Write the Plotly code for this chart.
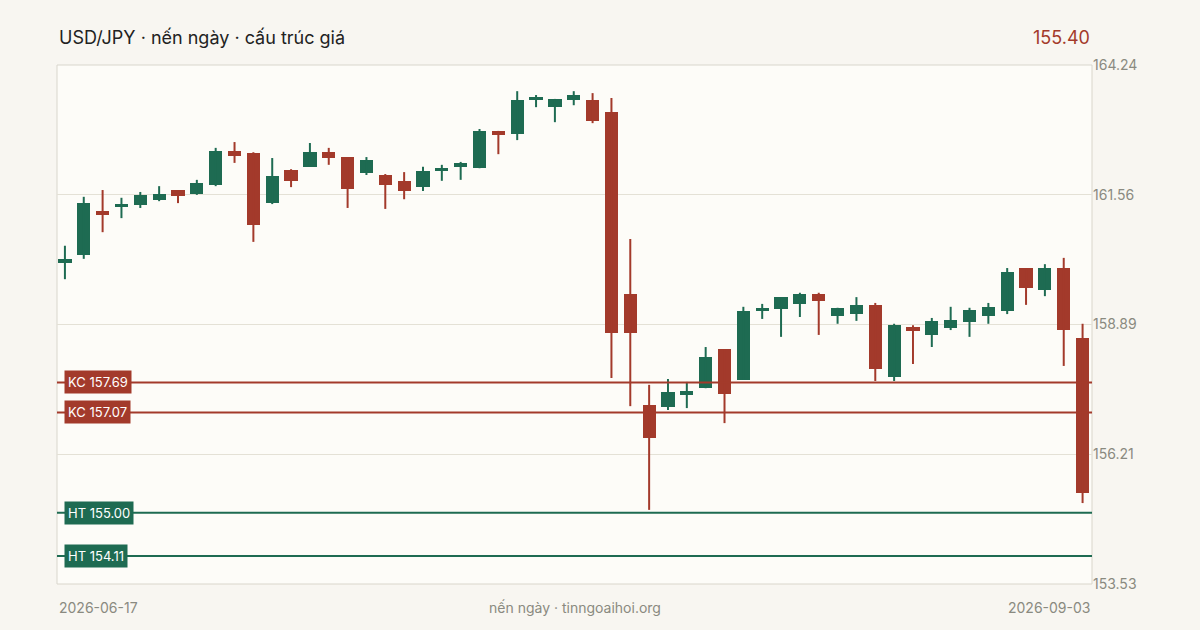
import plotly.graph_objects as go

opens  = [160.15,160.32,161.21,161.31,161.35,161.45,161.66,161.58,161.76,162.47,162.42,161.39,162.07,162.14,162.44,162.34,162.01,161.97,161.85,161.72,162.05,162.14,162.11,162.88,162.82,163.52,163.37,163.52,163.52,163.27,159.51,157.22,157.18,157.43,157.57,158.38,157.74,159.16,159.21,159.31,159.51,159.06,159.10,159.29,157.80,158.83,158.67,158.81,158.94,159.06,159.16,160.05,159.60,160.05,158.61]
highs  = [160.51,161.52,161.66,161.50,161.62,161.74,161.66,161.87,162.53,162.65,162.44,162.32,162.09,162.63,162.53,162.34,162.34,161.99,162.03,162.14,162.18,162.24,162.92,162.88,163.70,163.62,163.54,163.70,163.66,163.56,160.65,157.64,157.76,157.70,158.42,158.38,159.25,159.31,159.45,159.54,159.54,159.23,159.45,159.33,158.90,158.87,159.02,159.25,159.23,159.33,160.05,160.05,160.13,160.26,158.90]
lows   = [159.82,160.24,160.79,161.08,161.29,161.43,161.39,161.56,161.74,162.22,160.59,161.37,161.72,162.14,162.18,161.29,161.97,161.27,161.47,161.64,161.85,161.87,162.11,162.40,162.69,163.37,163.06,163.41,163.04,157.78,157.20,155.06,157.12,157.16,157.57,156.85,157.74,159.00,158.63,159.04,158.67,158.90,158.96,157.72,157.72,158.07,158.42,158.77,158.63,158.90,159.10,159.29,159.47,158.03,155.20]
closes = [160.24,161.39,161.15,161.37,161.56,161.58,161.54,161.80,162.47,162.36,160.94,161.95,161.85,162.44,162.32,161.68,162.28,161.76,161.64,162.05,162.11,162.18,162.88,162.80,163.52,163.58,163.54,163.62,163.08,158.71,158.71,156.54,157.49,157.51,158.21,157.45,159.16,159.23,159.45,159.51,159.37,159.23,159.29,157.97,158.87,158.75,158.96,158.98,159.18,159.25,159.97,159.64,160.05,158.77,155.40]
y_ticks = [153.53,156.21,158.89,161.56,164.24]
levels = [("KC", 157.69), ("KC", 157.07), ("HT", 155.00), ("HT", 154.11)]
title = "USD/JPY · nến ngày · cấu trúc giá"
last_price = "155.40"
date_start, date_end = "2026-06-17", "2026-09-03"
footer = "nến ngày · tinngoaihoi.org"

GREEN, RED = "#1e6b52", "#a33a2b"
n = len(opens)
xs = list(range(n))
cols = [GREEN if c >= o else RED for o, c in zip(opens, closes)]

fig = go.Figure()
for color in (GREEN, RED):
    wx, wy = [], []
    for i in xs:
        if cols[i] == color:
            wx += [i, i, None]; wy += [lows[i], highs[i], None]
    fig.add_trace(go.Scatter(x=wx, y=wy, mode="lines", line=dict(color=color, width=2), hoverinfo="skip", showlegend=False))
base = [min(o, c) for o, c in zip(opens, closes)]
hgt = [max(abs(c - o), 0.07) for o, c in zip(opens, closes)]
fig.add_trace(go.Bar(x=xs, y=hgt, base=base, width=0.7, marker=dict(color=cols, line=dict(width=0)), showlegend=False))

shapes = [dict(type="rect", xref="paper", yref="paper", x0=0, x1=1, y0=0, y1=1, line=dict(color="#d9d6cc", width=1), layer="below")]
annotations = []
for kind, v in levels:
    c = RED if kind == "KC" else GREEN
    shapes.append(dict(type="line", xref="paper", x0=0, x1=1, y0=v, y1=v, line=dict(color=c, width=2)))
    annotations.append(dict(xref="paper", x=0, y=v, xanchor="left", xshift=7, text=f"{kind} {v:.2f}", showarrow=False,
                            bgcolor=c, font=dict(color="white", size=13, family="Inter"), borderpad=3))
annotations += [
    dict(xref="paper", yref="paper", x=0, y=1, yshift=40, xanchor="left", text=title, showarrow=False, font=dict(size=18, color="#222", family="Inter")),
    dict(xref="paper", yref="paper", x=1, y=1, yshift=40, xanchor="right", text=last_price, showarrow=False, font=dict(size=18, color=RED, family="Inter")),
    dict(xref="paper", yref="paper", x=0, y=0, yshift=-34, xanchor="left", text=date_start, showarrow=False, font=dict(size=14, color="#8a8a80", family="Inter")),
    dict(xref="paper", yref="paper", x=0.5, y=0, yshift=-34, xanchor="center", text=footer, showarrow=False, font=dict(size=14, color="#8a8a80", family="Inter")),
    dict(xref="paper", yref="paper", x=1, y=0, yshift=-34, xanchor="right", text=date_end, showarrow=False, font=dict(size=14, color="#8a8a80", family="Inter")),
]

fig.update_layout(
    width=1200, height=630, margin=dict(l=57, r=108, t=65, b=46),
    paper_bgcolor="#f8f6f1", plot_bgcolor="#fdfcf8", bargap=0,
    xaxis=dict(range=[-0.42, 54.5], visible=False, fixedrange=True),
    yaxis=dict(range=[153.53, 164.24], side="right", tickvals=y_ticks, ticktext=[f"{t:.2f}" for t in y_ticks],
               gridcolor="#e4e1d6", zeroline=False, tickfont=dict(size=14, color="#8a8a80", family="Inter"), ticklen=0),
    shapes=shapes, annotations=annotations, showlegend=False,
)
fig.write_html("out.html", config={"displayModeBar": False},
               post_script="document.body.style.margin='0';document.body.style.overflow='hidden';document.body.style.background='#f8f6f1';")
